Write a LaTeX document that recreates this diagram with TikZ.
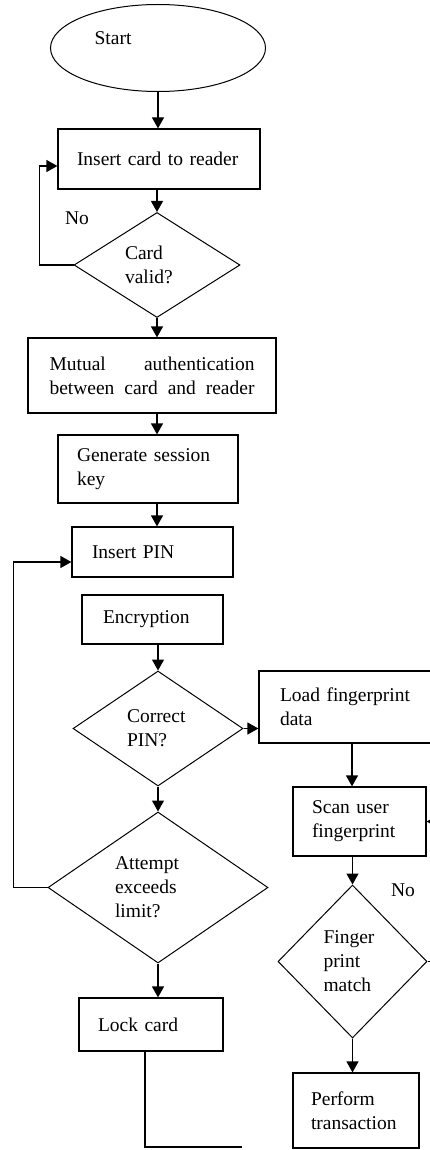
\documentclass[tikz,border=0pt]{standalone}
\usepackage{fontspec}
\setmainfont{Liberation Serif}
\usetikzlibrary{shapes.geometric,arrows.meta,positioning}

\begin{document}
\begin{tikzpicture}[x=1pt, y=-1pt, line width=1.2pt,
    font=\fontsize{19.5}{24}\selectfont,
    box/.style={rectangle, draw, align=left},
    decision/.style={diamond, draw, line width=1pt, inner sep=0pt, align=left},
    arr/.style={-{Triangle[length=11pt,width=12pt]}}]
   \useasboundingbox (0,0) rectangle (430,1150);
   % left column
   \node[ellipse, draw, line width=1pt, minimum width=215pt, minimum height=87pt,
         label={[name=starttxt, xshift=-45pt, yshift=10pt]center:Start}] (start) at (158,48) {};
   \node[box, minimum width=202pt, minimum height=60pt, text width=164pt] (ins) at (159,159) {Insert card to reader};
   \node[decision, minimum width=166pt, minimum height=105pt, text width=64pt] (cv) at (157,265) {Card\\valid?};
   \node[box, minimum width=248pt, minimum height=75pt, text width=205pt] (mut) at (152,375.5)
        {\makebox[205pt]{Mutual\hfill authentication}\\\makebox[205pt]{between\hfill card\hfill and\hfill reader}};
   \node[box, minimum width=180pt, minimum height=68pt, text width=142pt] (gen) at (148,469) {Generate session\\key};
   \node[box, minimum width=161pt, minimum height=50pt, text width=121pt] (pin) at (152.5,552) {Insert PIN};
   \node[box, minimum width=141pt, minimum height=49pt, text width=99pt] (enc) at (152.5,619.5) {Encryption};
   \node[decision, minimum width=170pt, minimum height=115pt, text width=62pt] (cp) at (158,728.5) {Correct\\PIN?};
   \node[decision, minimum width=220pt, minimum height=151pt, text width=86pt] (att) at (158,887.5) {Attempt\\exceeds\\limit?};
   \node[box, minimum width=144pt, minimum height=53pt, text width=106pt] (lock) at (151,1024.5) {Lock card};
   % right column
   \node[box, minimum width=186pt, minimum height=72pt, text width=144pt] (load) at (352,707) {Load fingerprint\\data};
   \node[box, minimum width=133pt, minimum height=69pt, text width=95pt] (scan) at (359.5,821.5) {Scan user\\fingerprint};
   \node[decision, minimum width=149pt, minimum height=153pt, text width=58pt] (fm) at (352.5,961.5) {Finger\\print\\match};
   \node[box, minimum width=126pt, minimum height=75pt, text width=90pt] (perf) at (356,1110.5) {Perform\\transaction};
   \node (no1) at (77,218) {No};
   \node (no2) at (403,890) {No};
   \coordinate (lockend) at (242,1147);
   \begin{scope}[every edge/.style={draw, arr}]
    \draw (start.south) edge (start.south |- ins.north);
    \draw (cv.north |- ins.south) edge (cv.north);
    \draw (cv.south) edge (cv.south |- mut.north);
    \draw (cv.south |- mut.south) edge (cv.south |- gen.north);
    \draw (cv.south |- gen.south) edge (cv.south |- pin.north);
    \draw (cp.north |- enc.south) edge (cp.north);
    \draw (cp.south) edge (att.north);
    \draw (att.south) edge (att.south |- lock.north);
    \draw (cp.east) edge (cp.east -| load.west);
    \draw (load.south) edge (load.south |- scan.north);
    \draw (fm.north |- scan.south) edge (fm.north);
    \draw (fm.south) edge (fm.south |- perf.north);
   \end{scope}
   % loops
   \draw[arr] (cv.west) -- ++(-34,0) |- ([yshift=-7pt]ins.west);
   \draw[arr] (att.west) -- ++(-34,0) |- ([yshift=-10pt]pin.west);
   \draw[arr] (fm.east) -- ++(20,0) |- (scan.east);
   \draw ([xshift=-6pt]lock.south) |- (lockend);
\end{tikzpicture}
\end{document}
